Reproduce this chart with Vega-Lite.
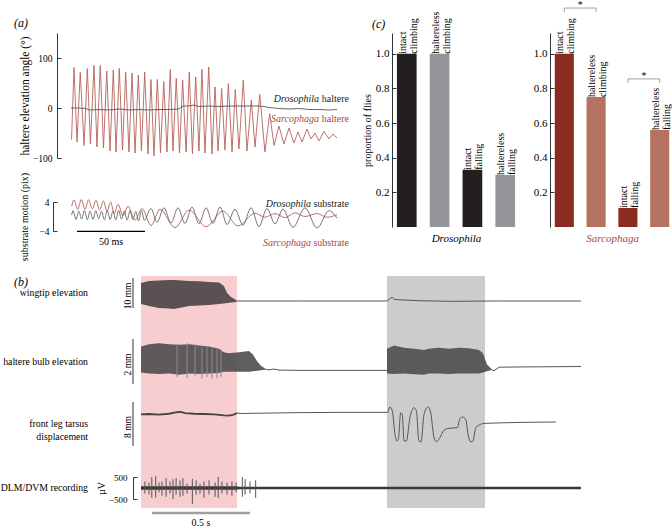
{
"$schema": "https://vega.github.io/schema/vega-lite/v6.json",
"padding": 0,
"background": "white",
"bounds": "flush",
"spacing": 243,
"resolve": {"scale": {"color": "independent"}},
"datasets": {
"halS": [{"t":0.4,"v":-63},{"t":2.2,"v":81},{"t":4.4,"v":-68},{"t":6.8,"v":71},{"t":9.6,"v":-75},{"t":12.0,"v":79},{"t":14.3,"v":-72},{"t":16.9,"v":85},{"t":19.1,"v":-78},{"t":21.5,"v":85},{"t":23.9,"v":-80},{"t":26.3,"v":74},{"t":28.7,"v":-86},{"t":31.1,"v":76},{"t":33.1,"v":-88},{"t":35.5,"v":79},{"t":37.9,"v":-84},{"t":40.2,"v":72},{"t":42.6,"v":-88},{"t":44.9,"v":70},{"t":47.1,"v":-90},{"t":49.5,"v":66},{"t":51.8,"v":-86},{"t":54.2,"v":72},{"t":56.6,"v":-92},{"t":58.8,"v":57},{"t":61.0,"v":-96},{"t":63.5,"v":57},{"t":65.8,"v":-90},{"t":68.2,"v":53},{"t":70.6,"v":-88},{"t":73.0,"v":77},{"t":75.0,"v":-86},{"t":77.4,"v":59},{"t":79.8,"v":-90},{"t":82.1,"v":56},{"t":84.6,"v":-88},{"t":87.0,"v":72},{"t":89.3,"v":-92},{"t":91.7,"v":62},{"t":94.1,"v":-86},{"t":96.3,"v":77},{"t":98.5,"v":-90},{"t":101.3,"v":82},{"t":103.7,"v":-92},{"t":105.9,"v":42},{"t":108.1,"v":-86},{"t":110.8,"v":39},{"t":113.2,"v":-84},{"t":115.7,"v":49},{"t":118.4,"v":-88},{"t":120.8,"v":37},{"t":123.5,"v":-82},{"t":126.7,"v":56},{"t":129.4,"v":-86},{"t":132.6,"v":16},{"t":135.3,"v":-78},{"t":138.8,"v":27},{"t":142.6,"v":-88},{"t":146.1,"v":-11},{"t":149.3,"v":-75},{"t":152.9,"v":-36},{"t":156.6,"v":-72},{"t":160.3,"v":-40},{"t":163.9,"v":-70},{"t":166.9,"v":-48},{"t":169.9,"v":-68},{"t":173.5,"v":-42},{"t":176.5,"v":-62},{"t":179.4,"v":-50},{"t":182.4,"v":-66},{"t":186.0,"v":-47},{"t":189.7,"v":-62},{"t":192.6,"v":-52},{"t":195.6,"v":-60}],
"halD": [{"t":0,"v":0},{"t":5.9,"v":0},{"t":11,"v":-1},{"t":13.2,"v":-4},{"t":20.6,"v":-3},{"t":27.9,"v":-4},{"t":35.3,"v":-2},{"t":42.6,"v":-4},{"t":50,"v":-3},{"t":57.4,"v":-4},{"t":64.7,"v":-3},{"t":72.1,"v":-3},{"t":79.4,"v":-2},{"t":82.4,"v":4},{"t":86.8,"v":4},{"t":90.4,"v":6},{"t":94.1,"v":3},{"t":101.5,"v":4},{"t":108.8,"v":3},{"t":116.2,"v":4},{"t":123.5,"v":4},{"t":130.9,"v":4},{"t":138.2,"v":4},{"t":141.9,"v":3},{"t":145.6,"v":1},{"t":152.9,"v":-1},{"t":160.3,"v":-2},{"t":167.6,"v":-1},{"t":175,"v":-3},{"t":182.4,"v":-3},{"t":189.7,"v":-4},{"t":195.6,"v":-3}],
"labA": [{"sp":"Drosophila","rest":"haltere","t":204.4,"v":18.7},{"sp":"Sarcophaga","rest":"haltere","t":204.4,"v":-22.7}],
"subS": [{"t":0.5,"v":2.8},{"t":2.2,"v":4.6},{"t":4.9,"v":2.0},{"t":7.6,"v":4.7},{"t":10.3,"v":2.0},{"t":12.9,"v":4.6},{"t":15.7,"v":2.1},{"t":18.4,"v":4.5},{"t":21.0,"v":1.8},{"t":23.8,"v":4.3},{"t":26.5,"v":1.4},{"t":29.1,"v":4.0},{"t":31.8,"v":0.8},{"t":34.6,"v":3.4},{"t":38.2,"v":0.2},{"t":41.9,"v":2.8},{"t":47.1,"v":-1.0},{"t":52.2,"v":2.2},{"t":58.8,"v":-2.5},{"t":65.4,"v":2.0},{"t":76.5,"v":-3.1},{"t":86.8,"v":1.8},{"t":99.3,"v":-2.8},{"t":111.8,"v":1.5},{"t":122.8,"v":-2.6},{"t":135.3,"v":0.9},{"t":142.6,"v":-0.2},{"t":150.0,"v":0.8},{"t":157.4,"v":-0.3},{"t":164.7,"v":1.0},{"t":172.1,"v":0.0},{"t":180.9,"v":0.8},{"t":188.2,"v":-0.2},{"t":195.6,"v":0.5}],
"subD": [{"t":0.5,"v":0.4},{"t":1.5,"v":1.6},{"t":3.6,"v":-0.8},{"t":5.7,"v":1.5},{"t":7.8,"v":-0.7},{"t":9.9,"v":1.7},{"t":12.0,"v":-0.9},{"t":14.0,"v":1.5},{"t":16.2,"v":-0.8},{"t":18.2,"v":1.6},{"t":20.4,"v":-0.6},{"t":22.4,"v":1.4},{"t":24.6,"v":-0.9},{"t":26.6,"v":1.6},{"t":28.8,"v":-0.8},{"t":30.8,"v":1.5},{"t":32.9,"v":-0.9},{"t":35.0,"v":1.7},{"t":37.1,"v":-0.7},{"t":39.2,"v":1.5},{"t":41.3,"v":-1.0},{"t":43.4,"v":1.6},{"t":45.5,"v":-0.9},{"t":47.6,"v":1.4},{"t":49.7,"v":-1.2},{"t":51.8,"v":1.6},{"t":53.9,"v":-1.0},{"t":58.8,"v":2.2},{"t":63.2,"v":-1.6},{"t":68.4,"v":2.4},{"t":73.5,"v":-1.8},{"t":78.7,"v":2.4},{"t":83.8,"v":-1.9},{"t":89.0,"v":2.6},{"t":94.1,"v":-2.0},{"t":99.3,"v":2.4},{"t":104.4,"v":-1.9},{"t":109.6,"v":2.6},{"t":114.7,"v":-2.2},{"t":120.6,"v":2.0},{"t":126.5,"v":-2.4},{"t":132.4,"v":2.4},{"t":138.2,"v":-2.8},{"t":144.1,"v":2.2},{"t":150.0,"v":-2.0},{"t":155.9,"v":2.0},{"t":163.2,"v":-3.0},{"t":172.1,"v":2.4},{"t":180.9,"v":-3.2},{"t":189.7,"v":1.6},{"t":195.6,"v":-0.5}],
"labS": [{"sp":"Drosophila","rest":"substrate","t":204.4,"v":3.4},{"sp":"Sarcophaga","rest":"substrate","t":204.4,"v":-7.2}],
"bar50": [{"t0":4.4,"t1":54.4,"tm":29.4,"v":-4.1,"label":"50 ms"}],
"dros": [{"cond":"intact climbing","kind":"intact","label":"intact\nclimbing","value":1.0},{"cond":"haltereless climbing","kind":"haltereless","label":"haltereless\nclimbing","value":1.0},{"cond":"intact falling","kind":"intact","label":"intact\nfalling","value":0.33},{"cond":"haltereless falling","kind":"haltereless","label":"haltereless\nfalling","value":0.30}],
"sarc": [{"cond":"intact climbing","kind":"intact","label":"intact\nclimbing","value":1.0},{"cond":"haltereless climbing","kind":"haltereless","label":"haltereless\nclimbing","value":0.75},{"cond":"intact falling","kind":"intact","label":"intact\nfalling","value":0.11},{"cond":"haltereless falling","kind":"haltereless","label":"haltereless\nfalling","value":0.56}],
"br": [{"a":"intact climbing","b":"haltereless climbing","y":1.264,"ye":1.241},{"a":"intact falling","b":"haltereless falling","y":0.855,"ye":0.831}],
"bands": [{"s":0,"e":0.49,"kind":"pink"},{"s":1.255,"e":1.755,"kind":"gray"}],
"wingB": [{"t":0,"top":16.0,"bot":9.0},{"t":0.041,"top":16.67,"bot":8.33},{"t":0.092,"top":16.8,"bot":7.67},{"t":0.143,"top":17.0,"bot":7.5},{"t":0.168,"top":17.0,"bot":7.33},{"t":0.245,"top":16.67,"bot":8.33},{"t":0.296,"top":16.6,"bot":8.5},{"t":0.347,"top":16.33,"bot":8.67},{"t":0.398,"top":16.2,"bot":9.0},{"t":0.423,"top":15.0,"bot":9.2},{"t":0.439,"top":12.67,"bot":9.33},{"t":0.459,"top":11.33,"bot":9.5},{"t":0.485,"top":10.33,"bot":9.67}],
"wingL": [{"t":0.485,"v":10.0},{"t":0.551,"v":10.0},{"t":0.806,"v":10.0},{"t":1.255,"v":10.0},{"t":1.27,"v":10.8},{"t":1.281,"v":11.2},{"t":1.291,"v":10.6},{"t":1.316,"v":10.4},{"t":1.418,"v":10.1},{"t":1.571,"v":9.9},{"t":1.827,"v":10.0},{"t":2.245,"v":10.0}],
"halB": [{"seg":"a","t":0,"top":2.2,"bot":1.05},{"seg":"a","t":0.041,"top":2.3,"bot":1.0},{"seg":"a","t":0.092,"top":2.35,"bot":0.98},{"seg":"a","t":0.143,"top":2.3,"bot":1.0},{"seg":"a","t":0.194,"top":2.28,"bot":0.95},{"seg":"a","t":0.245,"top":2.3,"bot":1.0},{"seg":"a","t":0.296,"top":2.25,"bot":0.98},{"seg":"a","t":0.347,"top":2.2,"bot":1.0},{"seg":"a","t":0.398,"top":2.1,"bot":1.02},{"seg":"a","t":0.423,"top":1.95,"bot":1.08},{"seg":"a","t":0.449,"top":1.9,"bot":1.08},{"seg":"a","t":0.5,"top":1.95,"bot":1.08},{"seg":"a","t":0.551,"top":2.0,"bot":1.08},{"seg":"a","t":0.571,"top":1.85,"bot":1.1},{"seg":"a","t":0.592,"top":1.55,"bot":1.12},{"seg":"a","t":0.612,"top":1.35,"bot":1.15},{"seg":"a","t":0.633,"top":1.22,"bot":1.17},{"seg":"b","t":1.255,"top":2.1,"bot":1.0},{"seg":"b","t":1.291,"top":2.25,"bot":0.98},{"seg":"b","t":1.342,"top":2.15,"bot":1.0},{"seg":"b","t":1.393,"top":2.1,"bot":0.97},{"seg":"b","t":1.444,"top":2.05,"bot":0.95},{"seg":"b","t":1.469,"top":2.1,"bot":1.0},{"seg":"b","t":1.52,"top":2.15,"bot":1.0},{"seg":"b","t":1.571,"top":2.1,"bot":0.98},{"seg":"b","t":1.622,"top":2.15,"bot":1.0},{"seg":"b","t":1.673,"top":2.12,"bot":1.0},{"seg":"b","t":1.724,"top":2.05,"bot":1.0},{"seg":"b","t":1.745,"top":1.9,"bot":1.05},{"seg":"b","t":1.765,"top":1.4,"bot":1.1},{"seg":"b","t":1.786,"top":1.22,"bot":1.15}],
"halL": [{"seg":"a","t":0.633,"v":1.19},{"seg":"a","t":0.653,"v":1.16},{"seg":"a","t":0.679,"v":1.2},{"seg":"a","t":0.704,"v":1.15},{"seg":"a","t":0.806,"v":1.14},{"seg":"a","t":1.01,"v":1.14},{"seg":"a","t":1.255,"v":1.14},{"seg":"b","t":1.786,"v":1.18},{"seg":"b","t":1.801,"v":1.12},{"seg":"b","t":1.827,"v":1.28},{"seg":"b","t":1.929,"v":1.29},{"seg":"b","t":2.245,"v":1.31}],
"halSp": [{"t":0.184,"lo":0.85,"hi":2.3},{"t":0.235,"lo":0.8,"hi":2.35},{"t":0.276,"lo":0.9,"hi":2.3},{"t":0.311,"lo":0.78,"hi":2.2},{"t":0.337,"lo":0.85,"hi":2.2},{"t":0.362,"lo":0.76,"hi":2.15},{"t":0.388,"lo":0.8,"hi":2.1},{"t":0.408,"lo":0.85,"hi":2.05}],
"legA": [{"t":0,"v":11.4},{"t":0.041,"v":11.45},{"t":0.092,"v":11.35},{"t":0.143,"v":11.5},{"t":0.184,"v":11.8},{"t":0.204,"v":11.85},{"t":0.224,"v":11.6},{"t":0.27,"v":11.5},{"t":0.321,"v":11.45},{"t":0.372,"v":11.4},{"t":0.423,"v":11.2},{"t":0.449,"v":11.15},{"t":0.469,"v":11.3},{"t":0.49,"v":11.6}],
"legB": [{"t":0.49,"v":11.6},{"t":0.526,"v":11.55},{"t":0.602,"v":11.6},{"t":0.806,"v":11.7},{"t":1.01,"v":11.75},{"t":1.255,"v":11.76},{"t":1.257,"v":11.69},{"t":1.27,"v":12.73},{"t":1.282,"v":12.0},{"t":1.296,"v":7.76},{"t":1.305,"v":6.55},{"t":1.313,"v":6.85},{"t":1.325,"v":11.69},{"t":1.333,"v":11.4},{"t":1.342,"v":6.55},{"t":1.354,"v":6.55},{"t":1.372,"v":10.78},{"t":1.393,"v":12.6},{"t":1.405,"v":12.0},{"t":1.418,"v":6.55},{"t":1.429,"v":6.42},{"t":1.444,"v":11.4},{"t":1.464,"v":12.73},{"t":1.478,"v":11.69},{"t":1.495,"v":7.15},{"t":1.507,"v":6.42},{"t":1.52,"v":6.85},{"t":1.546,"v":8.49},{"t":1.571,"v":8.85},{"t":1.614,"v":8.96},{"t":1.626,"v":10.49},{"t":1.639,"v":10.91},{"t":1.656,"v":10.49},{"t":1.67,"v":7.45},{"t":1.682,"v":6.42},{"t":1.694,"v":6.55},{"t":1.708,"v":8.96},{"t":1.733,"v":9.58},{"t":1.75,"v":9.76},{"t":2.116,"v":10.0}],
"dlmN": [{"t":0,"lo":-85,"hi":85},{"t":0.49,"lo":-85,"hi":85},{"t":0.5,"lo":-55,"hi":55},{"t":2.245,"lo":-55,"hi":55}],
"dlmS": [{"t":0.020,"lo":-250,"hi":300},{"t":0.041,"lo":-300,"hi":250},{"t":0.055,"lo":-450,"hi":500},{"t":0.075,"lo":-440,"hi":545},{"t":0.092,"lo":-200,"hi":250},{"t":0.107,"lo":-350,"hi":300},{"t":0.128,"lo":-400,"hi":450},{"t":0.148,"lo":-250,"hi":300},{"t":0.163,"lo":-500,"hi":400},{"t":0.179,"lo":-300,"hi":450},{"t":0.199,"lo":-400,"hi":350},{"t":0.214,"lo":-350,"hi":450},{"t":0.235,"lo":-250,"hi":200},{"t":0.262,"lo":-730,"hi":420},{"t":0.281,"lo":-300,"hi":350},{"t":0.301,"lo":-250,"hi":200},{"t":0.321,"lo":-450,"hi":300},{"t":0.347,"lo":-300,"hi":350},{"t":0.378,"lo":-400,"hi":250},{"t":0.394,"lo":-450,"hi":500},{"t":0.413,"lo":-250,"hi":300},{"t":0.439,"lo":-300,"hi":250},{"t":0.464,"lo":-350,"hi":300},{"t":0.485,"lo":-200,"hi":250},{"t":0.517,"lo":-400,"hi":500},{"t":0.531,"lo":-300,"hi":400},{"t":0.556,"lo":-250,"hi":300},{"t":0.585,"lo":-450,"hi":350}],
"tb": [{"t0":0.056,"t1":0.556,"tm":0.306,"y":-1136,"label":"0.5 s"}],
"sb": [{"trace":"wing","t":-0.0408,"y0":7.67,"y1":17.67,"ym":12.67,"name":"wingtip elevation","unit":"10 mm"},{"trace":"hal","t":-0.0408,"y0":0.533,"y1":2.533,"ym":1.533,"name":"haltere bulb elevation","unit":"2 mm"},{"trace":"leg","t":-0.0408,"y0":5.64,"y1":13.64,"ym":9.64,"name":"front leg tarsus\ndisplacement","unit":"8 mm"},{"trace":"dlm","t":-0.0408,"y0":0,"y1":0,"ym":0,"name":"DLM/DVM recording","unit":""}]
},
"vconcat": [
{
"hconcat": [
{
"vconcat": [
{
"width": 280, "height": 125,
"title": {"text": "(a)", "anchor": "start", "frame": "group", "dx": -43, "dy": 1, "fontSize": 12, "fontStyle": "italic"},
"resolve": {"scale": {"color": "independent"}},
"layer": [
{"data": {"name": "halS"}, "mark": {"type": "line", "color": "#B5625A", "strokeWidth": 0.9},
 "encoding": {"x": {"field": "t", "type": "quantitative", "scale": {"domain": [-10.3, 195.6], "nice": false, "zero": false}, "axis": null},
  "y": {"field": "v", "type": "quantitative", "scale": {"domain": [-100, 150], "nice": false, "zero": false}, "axis": {"values": [-100, -50, 0, 50, 100, 150], "title": "haltere elevation angle (°)", "tickSize": -4, "labelPadding": 9, "titlePadding": 2, "labelFontSize": 9.5, "titleFontSize": 11.5}}}},
{"data": {"name": "halD"}, "mark": {"type": "line", "color": "#555555", "strokeWidth": 0.9},
 "encoding": {"x": {"field": "t", "type": "quantitative", "axis": null}, "y": {"field": "v", "type": "quantitative"}}},
{"data": {"name": "labA"}, "mark": {"type": "text", "align": "right", "baseline": "middle", "fontSize": 10},
 "encoding": {"x": {"field": "t", "type": "quantitative", "axis": null}, "y": {"field": "v", "type": "quantitative"}, "text": {"field": "rest"},
  "color": {"field": "sp", "type": "nominal", "scale": {"domain": ["Drosophila", "Sarcophaga"], "range": ["#222222", "#A8483F"]}, "legend": null}}},
{"data": {"name": "labA"}, "mark": {"type": "text", "align": "right", "baseline": "middle", "fontSize": 10, "fontStyle": "italic", "dx": -30},
 "encoding": {"x": {"field": "t", "type": "quantitative", "axis": null}, "y": {"field": "v", "type": "quantitative"}, "text": {"field": "sp"},
  "color": {"field": "sp", "type": "nominal", "scale": {"domain": ["Drosophila", "Sarcophaga"], "range": ["#222222", "#A8483F"]}, "legend": null}}}
]
},
{
"width": 280, "height": 29,
"resolve": {"scale": {"color": "independent"}},
"layer": [
{"data": {"name": "subS"}, "mark": {"type": "line", "color": "#B5625A", "strokeWidth": 0.9, "interpolate": "monotone"},
 "encoding": {"x": {"field": "t", "type": "quantitative", "scale": {"domain": [-10.3, 195.6], "nice": false, "zero": false}, "axis": null},
  "y": {"field": "v", "type": "quantitative", "scale": {"domain": [-4, 4], "nice": false, "zero": false}, "axis": {"values": [-4, 0, 4], "labelOverlap": false, "title": "substrate motion (pix)", "tickSize": -4, "labelPadding": 8, "titlePadding": 9, "offset": 4, "labelFontSize": 9.5, "titleFontSize": 10}}}},
{"data": {"name": "subD"}, "mark": {"type": "line", "color": "#666666", "strokeWidth": 0.9, "interpolate": "monotone"},
 "encoding": {"x": {"field": "t", "type": "quantitative", "axis": null}, "y": {"field": "v", "type": "quantitative"}}},
{"data": {"name": "labS"}, "mark": {"type": "text", "align": "right", "baseline": "middle", "fontSize": 10},
 "encoding": {"x": {"field": "t", "type": "quantitative", "axis": null}, "y": {"field": "v", "type": "quantitative"}, "text": {"field": "rest"},
  "color": {"field": "sp", "type": "nominal", "scale": {"domain": ["Drosophila", "Sarcophaga"], "range": ["#222222", "#A8483F"]}, "legend": null}}},
{"data": {"name": "labS"}, "mark": {"type": "text", "align": "right", "baseline": "middle", "fontSize": 10, "fontStyle": "italic", "dx": -38},
 "encoding": {"x": {"field": "t", "type": "quantitative", "axis": null}, "y": {"field": "v", "type": "quantitative"}, "text": {"field": "sp"},
  "color": {"field": "sp", "type": "nominal", "scale": {"domain": ["Drosophila", "Sarcophaga"], "range": ["#222222", "#A8483F"]}, "legend": null}}},
{"data": {"name": "bar50"}, "mark": {"type": "rule", "color": "#000000", "strokeWidth": 1.2},
 "encoding": {"x": {"field": "t0", "type": "quantitative", "axis": null}, "x2": {"field": "t1"}, "y": {"field": "v", "type": "quantitative"}}},
{"data": {"name": "bar50"}, "mark": {"type": "text", "baseline": "middle", "fontSize": 10, "dy": 11},
 "encoding": {"x": {"field": "tm", "type": "quantitative", "axis": null}, "y": {"field": "v", "type": "quantitative"}, "text": {"field": "label"}}}
]
}
],
"spacing": 44, "bounds": "flush",
"resolve": {"scale": {"color": "independent"}}
},
{
"hconcat": [
{
"width": 128, "height": 194,
"title": {"text": "(c)", "anchor": "start", "frame": "group", "dx": -20, "dy": 23, "fontSize": 12, "fontStyle": "italic"},
"layer": [
{"data": {"name": "dros"}, "mark": {"type": "bar"},
 "encoding": {"x": {"field": "cond", "type": "nominal", "scale": {"domain": ["intact climbing", "haltereless climbing", "intact falling", "haltereless falling"], "paddingInner": 0.4, "paddingOuter": 0.15}, "axis": {"title": "Drosophila", "titleFontStyle": "italic", "labels": false, "ticks": false, "domain": false, "titlePadding": 5}},
  "y": {"field": "value", "type": "quantitative", "scale": {"domain": [0, 1.12], "nice": false}, "axis": {"values": [0.2, 0.4, 0.6, 0.8, 1.0], "format": ".1f", "title": "proportion of flies", "tickSize": -4, "labelPadding": 7, "titlePadding": 3, "labelFontSize": 11, "titleFontSize": 10}},
  "color": {"field": "kind", "type": "nominal", "scale": {"domain": ["intact", "haltereless"], "range": ["#231F20", "#939598"]}, "legend": null}}},
{"data": {"name": "dros"}, "mark": {"type": "text", "angle": -90, "align": "left", "baseline": "middle", "fontSize": 10, "lineBreak": "\n", "lineHeight": 11, "dy": -4},
 "encoding": {"x": {"field": "cond", "type": "nominal", "title": "Drosophila"}, "y": {"field": "value", "type": "quantitative", "title": "proportion of flies"}, "text": {"field": "label"}}}
]
},
{
"width": 124, "height": 194,
"layer": [
{"data": {"name": "sarc"}, "mark": {"type": "bar"},
 "encoding": {"x": {"field": "cond", "type": "nominal", "scale": {"domain": ["intact climbing", "haltereless climbing", "intact falling", "haltereless falling"], "paddingInner": 0.4, "paddingOuter": 0.15}, "axis": {"title": "Sarcophaga", "titleFontStyle": "italic", "titleColor": "#A8483F", "labels": false, "ticks": false, "domain": false, "titlePadding": 5}},
  "y": {"field": "value", "type": "quantitative", "scale": {"domain": [0, 1.12], "nice": false}, "axis": {"values": [0.2, 0.4, 0.6, 0.8, 1.0], "format": ".1f", "title": null, "tickSize": -4, "labelPadding": 7, "labelFontSize": 11}},
  "color": {"field": "kind", "type": "nominal", "scale": {"domain": ["intact", "haltereless"], "range": ["#8B2A1F", "#B5735F"]}, "legend": null}}},
{"data": {"name": "sarc"}, "mark": {"type": "text", "angle": -90, "align": "left", "baseline": "middle", "fontSize": 10, "lineBreak": "\n", "lineHeight": 11, "dy": -4},
 "encoding": {"x": {"field": "cond", "type": "nominal", "title": "Sarcophaga"}, "y": {"field": "value", "type": "quantitative", "title": null}, "text": {"field": "label"}}},
{"data": {"name": "br"}, "mark": {"type": "rule", "color": "#888888", "strokeWidth": 0.8},
 "encoding": {"x": {"field": "a", "type": "nominal", "title": "Sarcophaga"}, "x2": {"field": "b"}, "y": {"field": "y", "type": "quantitative", "title": null}}},
{"data": {"name": "br"}, "mark": {"type": "rule", "color": "#888888", "strokeWidth": 0.8},
 "encoding": {"x": {"field": "a", "type": "nominal", "title": "Sarcophaga"}, "y": {"field": "y", "type": "quantitative", "title": null}, "y2": {"field": "ye"}}},
{"data": {"name": "br"}, "mark": {"type": "rule", "color": "#888888", "strokeWidth": 0.8},
 "encoding": {"x": {"field": "b", "type": "nominal", "title": "Sarcophaga"}, "y": {"field": "y", "type": "quantitative", "title": null}, "y2": {"field": "ye"}}},
{"data": {"name": "br"}, "mark": {"type": "text", "text": "*", "fontSize": 10, "dx": 16, "dy": 0, "baseline": "alphabetic"},
 "encoding": {"x": {"field": "a", "type": "nominal", "title": "Sarcophaga"}, "y": {"field": "y", "type": "quantitative", "title": null}}}
]
}
],
"spacing": 30, "bounds": "flush",
"resolve": {"scale": {"color": "independent"}}
}
],
"spacing": 335, "bounds": "flush",
"resolve": {"scale": {"color": "independent"}}
},
{
"vconcat": [
{
"width": 542, "height": 55,
"title": {"text": "(b)", "anchor": "start", "frame": "group", "dx": -43, "dy": 17, "fontSize": 12, "fontStyle": "italic"},
"layer": [
{"data": {"name": "bands"}, "mark": {"type": "rect"},
 "encoding": {"x": {"field": "s", "type": "quantitative", "scale": {"domain": [-0.4286, 2.3367], "nice": false, "zero": false}, "axis": null}, "x2": {"field": "e"},
  "color": {"field": "kind", "type": "nominal", "scale": {"domain": ["pink", "gray"], "range": ["#F8CDD0", "#CCCCCC"]}, "legend": null}}},
{"data": {"name": "wingB"}, "mark": {"type": "area", "color": "#504A4B", "opacity": 0.95},
 "encoding": {"x": {"field": "t", "type": "quantitative", "axis": null}, "y": {"field": "top", "type": "quantitative", "scale": {"domain": [0, 18.333], "nice": false, "zero": false}, "axis": null}, "y2": {"field": "bot"}}},
{"data": {"name": "wingL"}, "mark": {"type": "line", "color": "#555555", "strokeWidth": 1},
 "encoding": {"x": {"field": "t", "type": "quantitative", "axis": null}, "y": {"field": "v", "type": "quantitative", "axis": null}}},
{"data": {"name": "sb"}, "transform": [{"filter": "datum.trace === 'wing'"}], "mark": {"type": "rule", "color": "#333333", "strokeWidth": 1},
 "encoding": {"x": {"field": "t", "type": "quantitative", "axis": null}, "y": {"field": "y0", "type": "quantitative", "axis": null}, "y2": {"field": "y1"}}},
{"data": {"name": "sb"}, "transform": [{"filter": "datum.trace === 'wing'"}], "mark": {"type": "text", "align": "right", "baseline": "middle", "fontSize": 9.8, "dx": -45, "lineBreak": "\n", "lineHeight": 13},
 "encoding": {"x": {"field": "t", "type": "quantitative", "axis": null}, "y": {"field": "ym", "type": "quantitative", "axis": null}, "text": {"field": "name"}}},
{"data": {"name": "sb"}, "transform": [{"filter": "datum.trace === 'wing'"}], "mark": {"type": "text", "angle": -90, "align": "center", "baseline": "bottom", "fontSize": 9.5, "dx": -3},
 "encoding": {"x": {"field": "t", "type": "quantitative", "axis": null}, "y": {"field": "ym", "type": "quantitative", "axis": null}, "text": {"field": "unit"}}}
]
},
{
"width": 542, "height": 65,
"layer": [
{"data": {"name": "bands"}, "mark": {"type": "rect"},
 "encoding": {"x": {"field": "s", "type": "quantitative", "scale": {"domain": [-0.4286, 2.3367], "nice": false, "zero": false}, "axis": null}, "x2": {"field": "e"},
  "color": {"field": "kind", "type": "nominal", "scale": {"domain": ["pink", "gray"], "range": ["#F8CDD0", "#CCCCCC"]}, "legend": null}}},
{"data": {"name": "halB"}, "mark": {"type": "area", "color": "#505050", "opacity": 0.92},
 "encoding": {"x": {"field": "t", "type": "quantitative", "axis": null}, "y": {"field": "top", "type": "quantitative", "scale": {"domain": [0, 2.889], "nice": false, "zero": false}, "axis": null}, "y2": {"field": "bot"}, "detail": {"field": "seg"}}},
{"data": {"name": "halSp"}, "mark": {"type": "rule", "color": "#8A8A8A", "strokeWidth": 1},
 "encoding": {"x": {"field": "t", "type": "quantitative", "axis": null}, "y": {"field": "lo", "type": "quantitative", "axis": null}, "y2": {"field": "hi"}}},
{"data": {"name": "halL"}, "mark": {"type": "line", "color": "#555555", "strokeWidth": 1},
 "encoding": {"x": {"field": "t", "type": "quantitative", "axis": null}, "y": {"field": "v", "type": "quantitative", "axis": null}, "detail": {"field": "seg"}}},
{"data": {"name": "sb"}, "transform": [{"filter": "datum.trace === 'hal'"}], "mark": {"type": "rule", "color": "#333333", "strokeWidth": 1},
 "encoding": {"x": {"field": "t", "type": "quantitative", "axis": null}, "y": {"field": "y0", "type": "quantitative", "axis": null}, "y2": {"field": "y1"}}},
{"data": {"name": "sb"}, "transform": [{"filter": "datum.trace === 'hal'"}], "mark": {"type": "text", "align": "right", "baseline": "middle", "fontSize": 9.8, "dx": -45, "lineBreak": "\n", "lineHeight": 13},
 "encoding": {"x": {"field": "t", "type": "quantitative", "axis": null}, "y": {"field": "ym", "type": "quantitative", "axis": null}, "text": {"field": "name"}}},
{"data": {"name": "sb"}, "transform": [{"filter": "datum.trace === 'hal'"}], "mark": {"type": "text", "angle": -90, "align": "center", "baseline": "bottom", "fontSize": 9.5, "dx": -3},
 "encoding": {"x": {"field": "t", "type": "quantitative", "axis": null}, "y": {"field": "ym", "type": "quantitative", "axis": null}, "text": {"field": "unit"}}}
]
},
{
"width": 542, "height": 81,
"layer": [
{"data": {"name": "bands"}, "mark": {"type": "rect"},
 "encoding": {"x": {"field": "s", "type": "quantitative", "scale": {"domain": [-0.4286, 2.3367], "nice": false, "zero": false}, "axis": null}, "x2": {"field": "e"},
  "color": {"field": "kind", "type": "nominal", "scale": {"domain": ["pink", "gray"], "range": ["#F8CDD0", "#CCCCCC"]}, "legend": null}}},
{"data": {"name": "legB"}, "mark": {"type": "line", "color": "#555555", "strokeWidth": 1, "interpolate": "monotone"},
 "encoding": {"x": {"field": "t", "type": "quantitative", "axis": null}, "y": {"field": "v", "type": "quantitative", "scale": {"domain": [0, 14.727], "nice": false, "zero": false}, "axis": null}}},
{"data": {"name": "legA"}, "mark": {"type": "line", "color": "#444444", "strokeWidth": 1.8},
 "encoding": {"x": {"field": "t", "type": "quantitative", "axis": null}, "y": {"field": "v", "type": "quantitative", "axis": null}}},
{"data": {"name": "sb"}, "transform": [{"filter": "datum.trace === 'leg'"}], "mark": {"type": "rule", "color": "#333333", "strokeWidth": 1},
 "encoding": {"x": {"field": "t", "type": "quantitative", "axis": null}, "y": {"field": "y0", "type": "quantitative", "axis": null}, "y2": {"field": "y1"}}},
{"data": {"name": "sb"}, "transform": [{"filter": "datum.trace === 'leg'"}], "mark": {"type": "text", "align": "right", "baseline": "middle", "fontSize": 9.8, "dx": -45, "lineBreak": "\n", "lineHeight": 13},
 "encoding": {"x": {"field": "t", "type": "quantitative", "axis": null}, "y": {"field": "ym", "type": "quantitative", "axis": null}, "text": {"field": "name"}}},
{"data": {"name": "sb"}, "transform": [{"filter": "datum.trace === 'leg'"}], "mark": {"type": "text", "angle": -90, "align": "center", "baseline": "bottom", "fontSize": 9.5, "dx": -3},
 "encoding": {"x": {"field": "t", "type": "quantitative", "axis": null}, "y": {"field": "ym", "type": "quantitative", "axis": null}, "text": {"field": "unit"}}}
]
},
{
"width": 542, "height": 22,
"layer": [
{"data": {"name": "bands"}, "mark": {"type": "rect"},
 "encoding": {"x": {"field": "s", "type": "quantitative", "scale": {"domain": [-0.4286, 2.3367], "nice": false, "zero": false}, "axis": null}, "x2": {"field": "e"},
  "y": {"datum": 500, "type": "quantitative", "scale": {"domain": [-500, 500], "nice": false, "zero": false}, "title": "µV", "axis": {"values": [-500, 0, 500], "labelExpr": "datum.value === 0 ? '' : datum.label", "title": "µV", "tickSize": -4, "labelPadding": 10, "offset": -76, "titlePadding": 2, "labelFontSize": 9, "titleFontSize": 10}},
  "y2": {"datum": -909},
  "color": {"field": "kind", "type": "nominal", "scale": {"domain": ["pink", "gray"], "range": ["#F8CDD0", "#CCCCCC"]}, "legend": null}}},
{"data": {"name": "dlmN"}, "mark": {"type": "area", "color": "#3A3A3A"},
 "encoding": {"x": {"field": "t", "type": "quantitative", "axis": null}, "y": {"field": "lo", "type": "quantitative", "title": "µV"}, "y2": {"field": "hi"}}},
{"data": {"name": "dlmS"}, "mark": {"type": "rule", "color": "#555555", "strokeWidth": 1},
 "encoding": {"x": {"field": "t", "type": "quantitative", "axis": null}, "y": {"field": "lo", "type": "quantitative", "title": "µV"}, "y2": {"field": "hi"}}},
{"data": {"name": "tb"}, "mark": {"type": "rule", "color": "#A0A0A0", "strokeWidth": 2.5},
 "encoding": {"x": {"field": "t0", "type": "quantitative", "axis": null}, "x2": {"field": "t1"}, "y": {"field": "y", "type": "quantitative", "title": "µV"}}},
{"data": {"name": "tb"}, "mark": {"type": "text", "baseline": "middle", "fontSize": 10, "dy": 10},
 "encoding": {"x": {"field": "tm", "type": "quantitative", "axis": null}, "y": {"field": "y", "type": "quantitative", "title": "µV"}, "text": {"field": "label"}}},
{"data": {"name": "sb"}, "transform": [{"filter": "datum.trace === 'dlm'"}], "mark": {"type": "text", "align": "right", "baseline": "middle", "fontSize": 9.8, "dx": -45},
 "encoding": {"x": {"field": "t", "type": "quantitative", "axis": null}, "y": {"field": "ym", "type": "quantitative", "title": "µV"}, "text": {"field": "name"}}}
]
}
],
"spacing": 0, "bounds": "flush",
"resolve": {"scale": {"color": "independent"}}
}
],
"config": {
"view": {"stroke": null},
"font": "Liberation Serif",
"axis": {"labelFont": "Liberation Serif", "titleFont": "Liberation Serif", "labelFontSize": 10, "titleFontSize": 11, "titleFontWeight": "normal", "labelColor": "#000000", "titleColor": "#000000", "domainColor": "#000000", "tickColor": "#000000", "domainWidth": 0.8, "tickWidth": 0.8, "grid": false, "labelFlush": false, "labelOverlap": false},
"text": {"font": "Liberation Serif", "color": "#000000"},
"title": {"font": "Liberation Serif", "fontWeight": "normal", "fontSize": 12, "color": "#000000"}
}
}
